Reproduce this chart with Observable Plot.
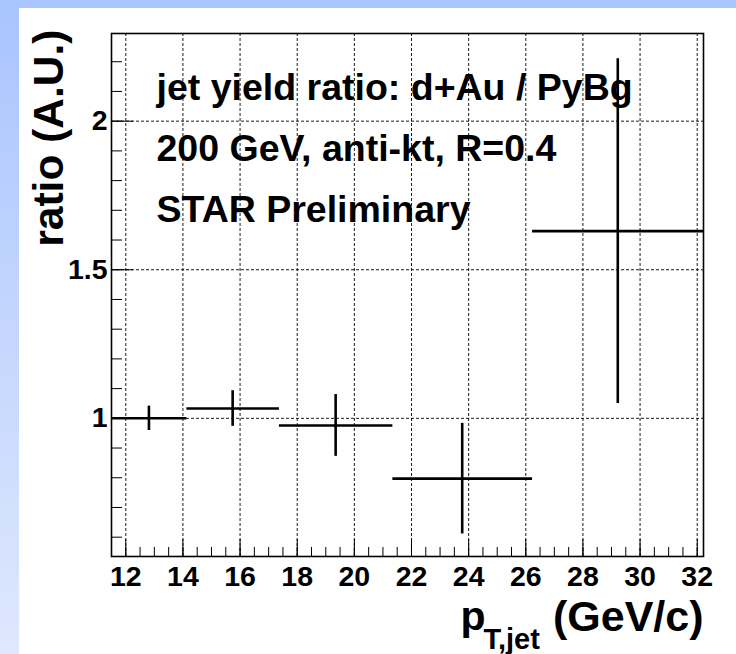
<!DOCTYPE html>
<html>
<head>
<meta charset="utf-8">
<script src="https://cdn.jsdelivr.net/npm/d3@7"></script>
<script src="https://cdn.jsdelivr.net/npm/@observablehq/plot@0.6"></script>
<style>
  html, body { margin: 0; padding: 0; }
  body {
    width: 736px; height: 654px; overflow: hidden; position: relative;
    background: linear-gradient(to bottom, #a9c5ff 0%, #c4d6fd 50%, #dee8fe 100%);
  }
  #pad { position: absolute; left: 19px; top: 8px; right: 0; bottom: 0; background: #fff; }
  #chart { position: absolute; left: 0; top: 0; }
</style>
</head>
<body>
<div id="pad"></div>
<div id="chart"></div>
<script>
// Jet yield ratio d+Au / PyBg per pT,jet bin
const binLow  = [11.50, 14.12, 17.36, 21.33, 26.22];
const binHigh = [14.12, 17.36, 21.33, 26.22, 32.22];
const ratio   = [1.000, 1.033, 0.976, 0.797, 1.630];
const ratioErr = [0.041, 0.060, 0.104, 0.186, 0.580];

// Axis labels and grid positions
const xTickLabels = [12, 14, 16, 18, 20, 22, 24, 26, 28, 30, 32];
const yTickLabels = [1, 1.5, 2];
const xMinorTicks = d3.range(23, 65).map(i => i / 2);
const yMinorTicks = d3.range(6, 23).map(i => i / 10);

const annotationLines = [
  "jet yield ratio: d+Au / PyBg",
  "200 GeV, anti-kt, R=0.4",
  "STAR Preliminary"
];
const yTitle = "ratio (A.U.)";
const xTitleMain = "p";
const xTitleSub = "T,jet";
const xTitleUnit = "(GeV/c)";

const points = binLow.map((lo, i) => ({
  lo, hi: binHigh[i],
  x: (lo + binHigh[i]) / 2,
  y: ratio[i],
  yLo: ratio[i] - ratioErr[i],
  yHi: ratio[i] + ratioErr[i]
}));

const W = 736, H = 654;
const mL = 111, mR = 33, mT = 33, mB = 98;
const frameH = H - mT - mB;
const frameW = W - mL - mR;
const font = "'Liberation Sans', Arial, Helvetica, sans-serif";

const chart = Plot.plot({
  width: W,
  height: H,
  marginLeft: mL,
  marginRight: mR,
  marginTop: mT,
  marginBottom: mB,
  style: { background: "transparent", fontFamily: font, color: "#000" },
  x: { domain: [11.5, 32.22], axis: null },
  y: { domain: [0.535, 2.295], axis: null },
  marks: [
    // dashed grid
    Plot.ruleX(xTickLabels, { stroke: "#000", strokeWidth: 0.9, strokeDasharray: "3,2" }),
    Plot.ruleY(yTickLabels, { stroke: "#000", strokeWidth: 0.9, strokeDasharray: "3,2" }),
    // inward ticks on the bottom and left edges
    Plot.tickX(xMinorTicks, { x: d => d, stroke: "#000", strokeWidth: 1, insetTop: frameH - 9 }),
    Plot.tickX(xTickLabels, { x: d => d, stroke: "#000", strokeWidth: 1, insetTop: frameH - 17 }),
    Plot.tickY(yMinorTicks, { y: d => d, stroke: "#000", strokeWidth: 1, insetRight: frameW - 11 }),
    Plot.tickY(yTickLabels, { y: d => d, stroke: "#000", strokeWidth: 1, insetRight: frameW - 22 }),
    Plot.frame({ stroke: "#000", strokeWidth: 1.6 }),
    // tick labels
    Plot.text(xTickLabels, {
      x: d => d, frameAnchor: "bottom", dy: 9, lineAnchor: "top",
      text: d => String(d), fontSize: 28.5, fontWeight: "bold", fill: "#000"
    }),
    Plot.text(yTickLabels, {
      y: d => d, frameAnchor: "left", dx: -4, textAnchor: "end", lineAnchor: "middle",
      text: d => String(d), fontSize: 28.5, fontWeight: "bold", fill: "#000"
    }),
    // annotation block
    Plot.text([annotationLines.join("\n")], {
      frameAnchor: "top-left", dx: 45, dy: 23,
      textAnchor: "start", lineAnchor: "top", lineHeight: 1.627,
      fontSize: 37.5, fontWeight: "bold", fill: "#000"
    }),
    // y title
    Plot.text([yTitle], {
      frameAnchor: "top-left", dx: -49, dy: -4, rotate: -90,
      textAnchor: "end", lineAnchor: "bottom",
      fontSize: 42.5, fontWeight: "bold", fill: "#000"
    }),
    // x title
    Plot.text([xTitleUnit], {
      frameAnchor: "bottom-right", dx: 0, dy: 74,
      textAnchor: "end", lineAnchor: "bottom",
      fontSize: 43, fontWeight: "bold", fill: "#000"
    }),
    Plot.text([xTitleMain], {
      frameAnchor: "bottom-right", dx: -243, dy: 73,
      textAnchor: "start", lineAnchor: "bottom",
      fontSize: 41, fontWeight: "bold", fill: "#000"
    }),
    Plot.text([xTitleSub], {
      frameAnchor: "bottom-right", dx: -220, dy: 92,
      textAnchor: "start", lineAnchor: "bottom",
      fontSize: 29, fontWeight: "bold", fill: "#000"
    }),
    // data: bin-width bars and statistical error bars
    Plot.link(points, { x1: "lo", x2: "hi", y1: "y", y2: "y", stroke: "#000", strokeWidth: 2.6 }),
    Plot.ruleX(points, { x: "x", y1: "yLo", y2: "yHi", stroke: "#000", strokeWidth: 2.6 })
  ]
});

document.getElementById("chart").append(chart);
</script>
</body>
</html>
